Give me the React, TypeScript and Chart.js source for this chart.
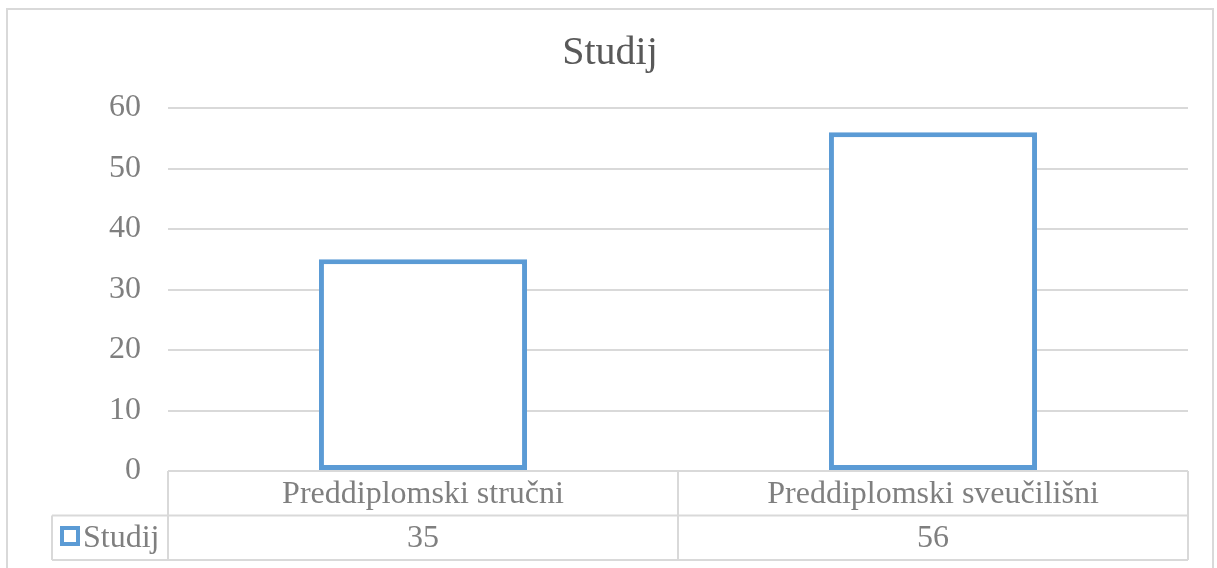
import React, { useEffect, useRef } from "react";
import { Chart, registerables } from "chart.js";

Chart.register(...registerables);

const chartTitle = "Studij";
const seriesName = "Studij";
const categories = ["Preddiplomski stručni", "Preddiplomski sveučilišni"];
const seriesValues = [35, 56];
const yMin = 0;
const yMax = 60;
const yStep = 10;

const FONT = "'Liberation Serif', 'Times New Roman', serif";
const BLUE = "#5B9BD5";
const GRID = "#d9d9d9";
const TEXT = "#7f7f7f";

const tablePlugin = {
  id: "excelTable",
  afterDraw(chart: any) {
    const { ctx, chartArea } = chart;
    const xs = chart.scales.x;
    const left = chartArea.left;
    const right = chartArea.right;
    const top = chartArea.bottom;
    const rowH = 44.5;
    const r1 = top + rowH;
    const r2 = r1 + rowH;
    const legendLeft = 52;

    ctx.save();
    // outer chart border
    ctx.strokeStyle = GRID;
    ctx.lineWidth = 2;
    ctx.strokeRect(7, 9, 1206, 620);

    // title, centred on the whole chart
    ctx.fillStyle = "#595959";
    ctx.font = `40px ${FONT}`;
    ctx.textAlign = "center";
    ctx.textBaseline = "middle";
    ctx.fillText(chartTitle, 610, 53);

    // table lines
    ctx.lineWidth = 2;
    ctx.strokeStyle = GRID;
    ctx.beginPath();
    ctx.moveTo(left, top);
    ctx.lineTo(right, top);
    ctx.moveTo(legendLeft, r1);
    ctx.lineTo(right, r1);
    ctx.moveTo(legendLeft, r2);
    ctx.lineTo(right, r2);
    ctx.moveTo(left, top);
    ctx.lineTo(left, r2);
    ctx.moveTo(right, top);
    ctx.lineTo(right, r2);
    ctx.moveTo(legendLeft, r1);
    ctx.lineTo(legendLeft, r2);
    for (let i = 0; i < categories.length - 1; i++) {
      const bx = (xs.getPixelForValue(i) + xs.getPixelForValue(i + 1)) / 2;
      ctx.moveTo(bx, top);
      ctx.lineTo(bx, r2);
    }
    ctx.stroke();

    // texts
    ctx.fillStyle = TEXT;
    ctx.font = `32px ${FONT}`;
    ctx.textAlign = "center";
    ctx.textBaseline = "middle";
    categories.forEach((c, i) => {
      const cx = xs.getPixelForValue(i);
      ctx.fillText(c, cx, top + rowH / 2 + 1);
      ctx.fillText(String(seriesValues[i]), cx, r1 + rowH / 2 + 1);
    });

    // legend key
    ctx.fillStyle = "#ffffff";
    ctx.fillRect(61, 527, 18, 18);
    ctx.strokeStyle = BLUE;
    ctx.lineWidth = 4;
    ctx.strokeRect(62, 528, 16, 16);
    ctx.fillStyle = TEXT;
    ctx.textAlign = "left";
    ctx.fillText(seriesName, 83, r1 + rowH / 2 + 1);
    ctx.restore();
  },
};

export default function App() {
  const ref = useRef<HTMLCanvasElement | null>(null);

  useEffect(() => {
    if (!ref.current) return;
    const chart = new Chart(ref.current, {
      type: "bar",
      data: {
        labels: categories,
        datasets: [
          {
            label: seriesName,
            data: seriesValues,
            backgroundColor: "#ffffff",
            borderColor: BLUE,
            borderWidth: 5,
            borderSkipped: false,
            barPercentage: 0.408,
            categoryPercentage: 1,
          },
        ],
      },
      options: {
        responsive: false,
        animation: false,
        layout: { padding: { left: 0, right: 29, top: 108, bottom: 97 } },
        plugins: {
          legend: { display: false },
          tooltip: { enabled: false },
          title: { display: false },
        },
        scales: {
          x: {
            display: false,
          },
          y: {
            min: yMin,
            max: yMax,
            ticks: {
              stepSize: yStep,
              color: TEXT,
              font: { family: FONT, size: 32 },
              padding: 27,
            },
            grid: { color: GRID, lineWidth: 2, drawTicks: false },
            border: { display: false },
            afterFit: (scale: any) => {
              scale.width = 168;
            },
          },
        },
      },
      plugins: [tablePlugin],
    });
    return () => chart.destroy();
  }, []);

  return (
    <div style={{ position: "absolute", left: 0, top: 0, width: 1217, height: 568, background: "#fff" }}>
      <canvas ref={ref} width={1217} height={568} />
    </div>
  );
}
